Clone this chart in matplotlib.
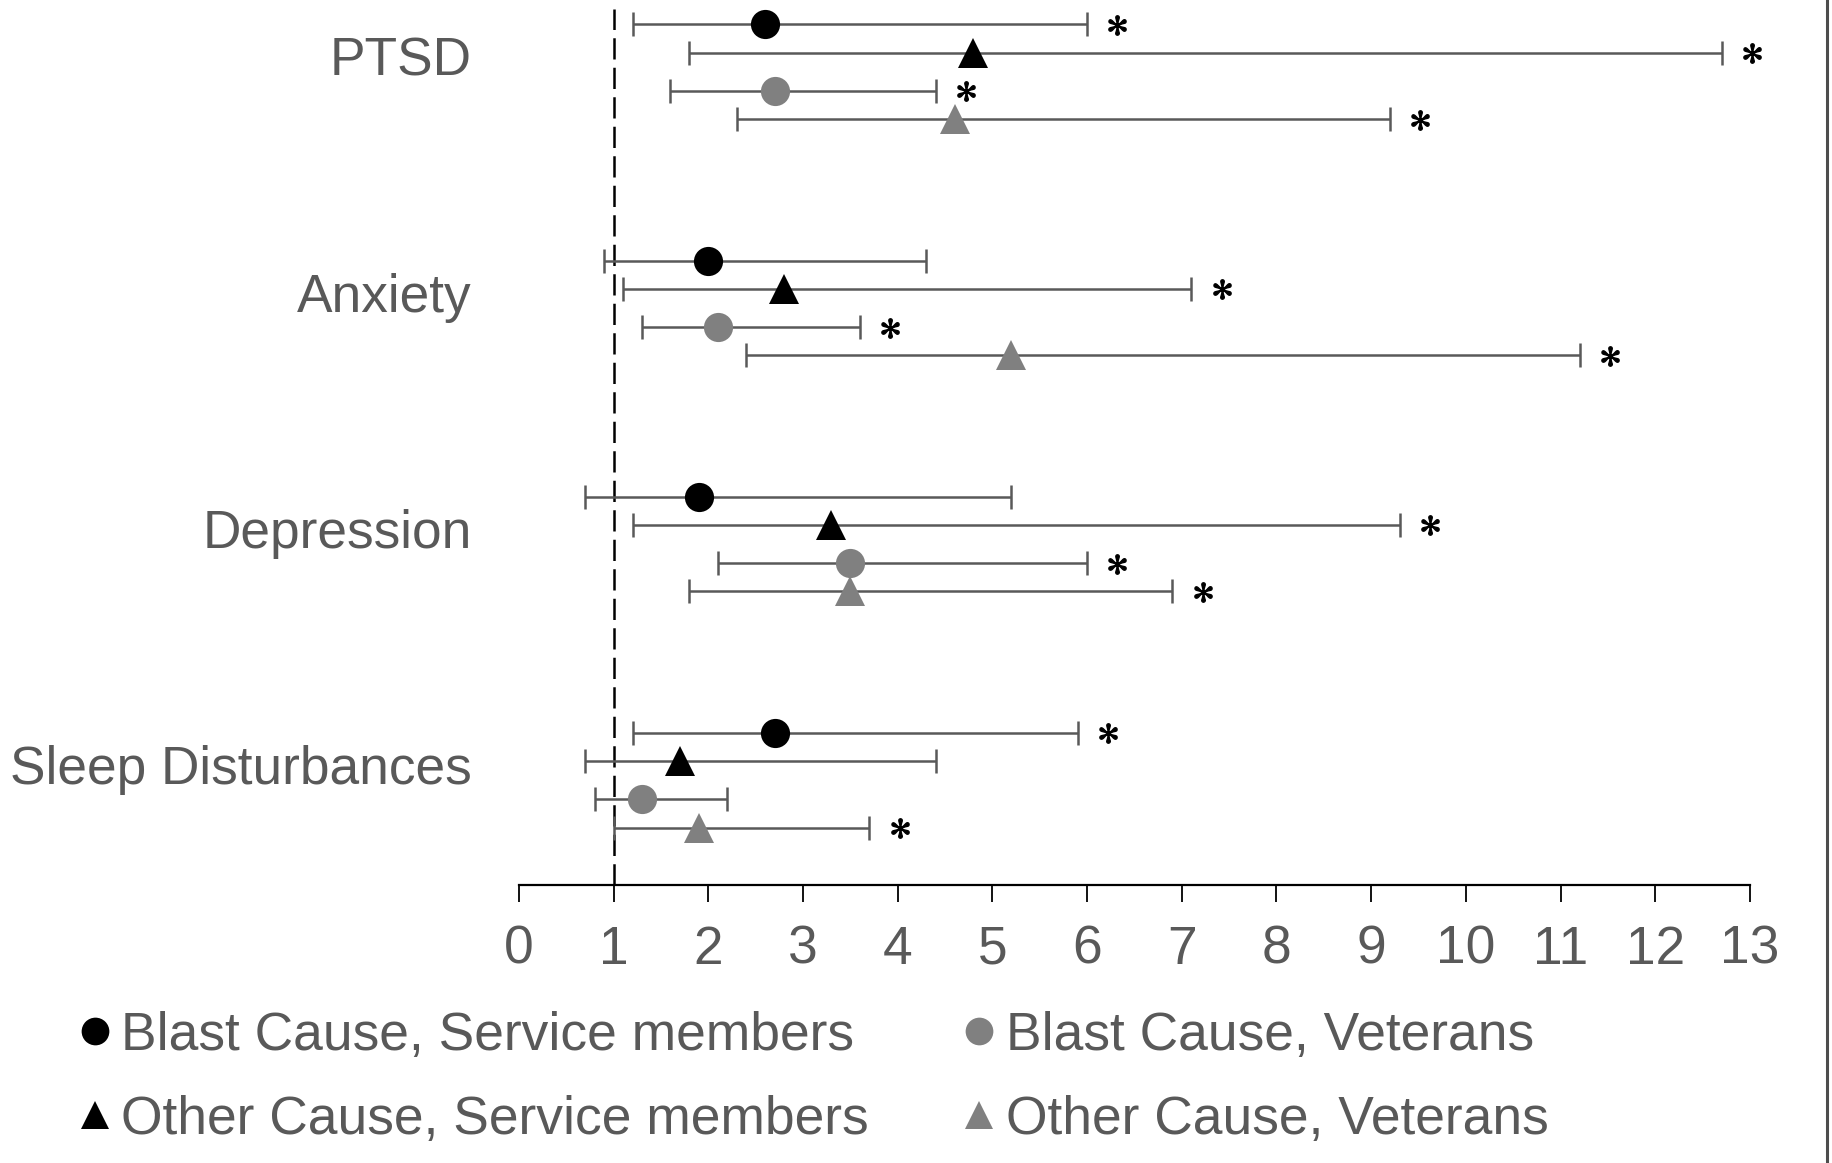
import numpy as np
import matplotlib.pyplot as plt
from matplotlib.lines import Line2D

plt.rcParams['font.family'] = ['Liberation Sans', 'DejaVu Sans']
plt.rcParams['mathtext.fontset'] = 'stix'

# Datos (odds ratios con IC 95%)
categorias = ['PTSD', 'Anxiety', 'Depression', 'Sleep Disturbances']

blast_sm = [2.6, 2.0, 1.9, 2.7]
blast_sm_lo = [1.2, 0.9, 0.7, 1.2]
blast_sm_hi = [6.0, 4.3, 5.2, 5.9]
blast_sm_sig = [True, False, False, True]

other_sm = [4.8, 2.8, 3.3, 1.7]
other_sm_lo = [1.8, 1.1, 1.2, 0.7]
other_sm_hi = [12.7, 7.1, 9.3, 4.4]
other_sm_sig = [True, True, True, False]

blast_vet = [2.7, 2.1, 3.5, 1.3]
blast_vet_lo = [1.6, 1.3, 2.1, 0.8]
blast_vet_hi = [4.4, 3.6, 6.0, 2.2]
blast_vet_sig = [True, True, True, False]

other_vet = [4.6, 5.2, 3.5, 1.9]
other_vet_lo = [2.3, 2.4, 1.8, 1.0]
other_vet_hi = [9.2, 11.2, 6.9, 3.7]
other_vet_sig = [True, True, True, True]

series = [
    ('Blast Cause, Service members', blast_sm, blast_sm_lo, blast_sm_hi, blast_sm_sig, 'o', 'black'),
    ('Other Cause, Service members', other_sm, other_sm_lo, other_sm_hi, other_sm_sig, '^', 'black'),
    ('Blast Cause, Veterans', blast_vet, blast_vet_lo, blast_vet_hi, blast_vet_sig, 'o', '#808080'),
    ('Other Cause, Veterans', other_vet, other_vet_lo, other_vet_hi, other_vet_sig, '^', '#808080'),
]
desplazamientos = [0.0, 0.119, 0.282, 0.401]

texto = '#595959'

fig = plt.figure(figsize=(18.33, 11.63), dpi=100)
ax = fig.add_axes([0.2831, 0.2391, 0.9547 - 0.2831, 0.992 - 0.2391])

base = np.arange(len(categorias))
ax.axvline(1, color='black', lw=1.8, linestyle=(0, (8.5, 3.3)), zorder=1)

handles = []
for (nombre, val, lo, hi, sig, marcador, color), d in zip(series, desplazamientos):
    y = base + d
    val = np.array(val)
    err = [val - np.array(lo), np.array(hi) - val]
    ax.errorbar(val, y, xerr=err, fmt='none', ecolor=texto, elinewidth=1.8,
                capsize=8.5, capthick=1.8, zorder=2)
    h, = ax.plot(val, y, linestyle='none', marker=marcador, color=color,
                 markersize=21, markeredgewidth=0, label=nombre, zorder=3)
    handles.append(h)
    sig = np.array(sig)
    ax.plot(np.array(hi)[sig] + 0.32, y[sig] + 0.002, linestyle='none',
            marker=r'$*$', color='black', markersize=14, zorder=3, clip_on=False)

ax.set_xlim(0, 13)
ax.set_xticks(range(14))
ax.set_ylim(3.644, -0.064)
ax.set_yticks(base + 0.134)
ax.set_yticklabels(categorias)

for s in ['top', 'right', 'left']:
    ax.spines[s].set_visible(False)
ax.spines['bottom'].set_linewidth(1.6)
ax.tick_params(axis='x', length=12.5, width=1.3, color='black', labelsize=38.3,
               labelcolor=texto, pad=16)
ax.tick_params(axis='y', length=0, labelsize=38.3, labelcolor=texto, pad=34)

fig.legend(handles=handles, loc='upper left', bbox_to_anchor=(0.043, 0.131),
           ncol=2, frameon=False, fontsize=38.4, labelcolor=texto,
           handlelength=0.6, handletextpad=0.2, columnspacing=1.76,
           labelspacing=0.64, markerscale=0.95, borderpad=0, borderaxespad=0)

# borde derecho de la imagen
fig.add_artist(Line2D([0.9969, 0.9969], [0, 1], transform=fig.transFigure,
                      color='#4d4d4d', lw=2.2))

fig.savefig('out.png', dpi=100)
